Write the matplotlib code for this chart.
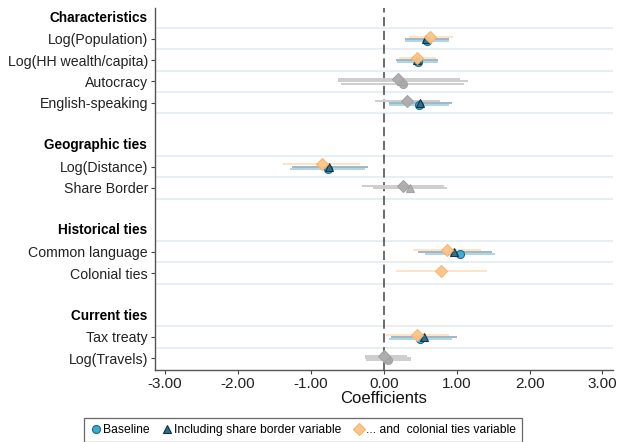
import numpy as np
import matplotlib
matplotlib.use("Agg")
import matplotlib.pyplot as plt
from matplotlib.lines import Line2D

plt.rcParams['font.family'] = ['Liberation Sans', 'DejaVu Sans']

# row layout: group headers and variables
groups = ['Characteristics', 'Geographic ties', 'Historical ties', 'Current ties']
group_vars = [
    ['Log(Population)', 'Log(HH wealth/capita)', 'Autocracy', 'English-speaking'],
    ['Log(Distance)', 'Share Border'],
    ['Common language', 'Colonial ties'],
    ['Tax treaty', 'Log(Travels)'],
]

series_names = ['Baseline', 'Including share border variable',
                '... and  colonial ties variable']

# estimates per variable (missing = not in model)
base_est = {'Log(Population)': 0.59, 'Log(HH wealth/capita)': 0.47, 'Autocracy': 0.26,
            'English-speaking': 0.49, 'Log(Distance)': -0.77, 'Common language': 1.05,
            'Tax treaty': 0.50, 'Log(Travels)': 0.06}
base_lo = {'Log(Population)': 0.29, 'Log(HH wealth/capita)': 0.18, 'Autocracy': -0.59,
           'English-speaking': 0.07, 'Log(Distance)': -1.29, 'Common language': 0.57,
           'Tax treaty': 0.07, 'Log(Travels)': -0.25}
base_hi = {'Log(Population)': 0.89, 'Log(HH wealth/capita)': 0.75, 'Autocracy': 1.10,
           'English-speaking': 0.89, 'Log(Distance)': -0.26, 'Common language': 1.53,
           'Tax treaty': 0.94, 'Log(Travels)': 0.37}

share_est = {'Log(Population)': 0.58, 'Log(HH wealth/capita)': 0.46, 'Autocracy': 0.24,
             'English-speaking': 0.50, 'Log(Distance)': -0.75, 'Share Border': 0.36,
             'Common language': 0.97, 'Tax treaty': 0.55, 'Log(Travels)': 0.04}
share_lo = {'Log(Population)': 0.29, 'Log(HH wealth/capita)': 0.17, 'Autocracy': -0.63,
            'English-speaking': 0.07, 'Log(Distance)': -1.26, 'Share Border': -0.15,
            'Common language': 0.47, 'Tax treaty': 0.10, 'Log(Travels)': -0.26}
share_hi = {'Log(Population)': 0.89, 'Log(HH wealth/capita)': 0.75, 'Autocracy': 1.16,
            'English-speaking': 0.94, 'Log(Distance)': -0.22, 'Share Border': 0.87,
            'Common language': 1.49, 'Tax treaty': 1.01, 'Log(Travels)': 0.38}

col_est = {'Log(Population)': 0.64, 'Log(HH wealth/capita)': 0.46, 'Autocracy': 0.20,
           'English-speaking': 0.32, 'Log(Distance)': -0.85, 'Share Border': 0.26,
           'Common language': 0.87, 'Colonial ties': 0.79, 'Tax treaty': 0.46,
           'Log(Travels)': 0.00}
col_lo = {'Log(Population)': 0.34, 'Log(HH wealth/capita)': 0.21, 'Autocracy': -0.63,
          'English-speaking': -0.12, 'Log(Distance)': -1.38, 'Share Border': -0.30,
          'Common language': 0.40, 'Colonial ties': 0.17, 'Tax treaty': 0.03,
          'Log(Travels)': -0.26}
col_hi = {'Log(Population)': 0.95, 'Log(HH wealth/capita)': 0.72, 'Autocracy': 1.04,
          'English-speaking': 0.77, 'Log(Distance)': -0.33, 'Share Border': 0.83,
          'Common language': 1.33, 'Colonial ties': 1.41, 'Tax treaty': 0.90,
          'Log(Travels)': 0.32}

x_ticks = [-3, -2, -1, 0, 1, 2, 3]

# styles: marker, fill, edge, ci colour, offset
styles = [
    dict(marker='o', ms=5.8, fc='#3aa9d3', ec='#1c6a8a', ci='#a9d6e9', off=0.10),
    dict(marker='^', ms=6.2, fc='#2b6e8a', ec='#0d2f3f', ci='#a3b5bf', off=0.0),
    dict(marker='D', ms=6.4, fc='#fdc58a', ec='#f6b46e', ci='#fde3c7', off=-0.10),
]
gray_fc, gray_ec, gray_ci = '#adadad', '#a2a2a2', '#cdcdcd'
data = [(base_est, base_lo, base_hi), (share_est, share_lo, share_hi),
        (col_est, col_lo, col_hi)]

fig = plt.figure(figsize=(6.17, 4.42), dpi=100)
ax = fig.add_axes([0.251, 0.163, 0.742, 0.819])

# build row positions
pos = 0
var_pos = {}
head_pos = []
for g, vs in zip(groups, group_vars):
    head_pos.append(pos)
    pos += 1
    for v in vs:
        var_pos[v] = pos
        pos += 1
    pos += 1

# light row separators
for v, p in var_pos.items():
    for yy in (p - 0.5, p + 0.5):
        if yy < 16.4:
            ax.axhline(yy, color='#e7eff3', lw=1.4, zorder=0)

ax.axvline(0, color='#444444', lw=1.1, ls=(0, (6, 3)), zorder=1)

for (est, lo, hi), st in zip(data, styles):
    for v, p in var_pos.items():
        if v not in est:
            continue
        y = p + st['off']
        insig = lo[v] < 0 < hi[v]
        ci = gray_ci if insig else st['ci']
        fc = gray_fc if insig else st['fc']
        ec = gray_ec if insig else st['ec']
        ax.plot([lo[v], hi[v]], [y, y], color=ci, lw=1.4, solid_capstyle='butt', zorder=2)
        ax.plot(est[v], y, marker=st['marker'], ms=st['ms'], mfc=fc, mec=ec,
                mew=0.8, ls='none', zorder=3, alpha=0.95)

ax.set_xlim(-3.14, 3.14)
ax.set_ylim(16.55, -0.45)
ax.set_xticks(x_ticks)
ax.set_xticklabels(['%.2f' % t for t in x_ticks], fontsize=11, color='#222222')
ax.set_yticks(list(var_pos.values()))
ax.set_yticklabels(list(var_pos.keys()), fontsize=10.2, color='#222222')
ax.tick_params(axis='both', length=3, width=0.8, color='#444444', pad=2)
for p, g in zip(head_pos, groups):
    ax.text(-0.017, p, g, transform=ax.get_yaxis_transform(), ha='right',
            va='center', fontsize=9.8, fontweight='bold', color='black')

ax.set_xlabel('Coefficients', fontsize=12, labelpad=0, color='#111111')
for s in ['top', 'right']:
    ax.spines[s].set_visible(False)
for s in ['left', 'bottom']:
    ax.spines[s].set_color('#555555')
    ax.spines[s].set_linewidth(1.0)

handles = [Line2D([], [], marker=st['marker'], ms=st['ms'], mfc=st['fc'],
                  mec=st['ec'], mew=0.8, ls='none') for st in styles]
leg = fig.legend(handles, series_names, loc='upper center', ncol=3,
                 bbox_to_anchor=(0.491, 1 - 418 / 442), fontsize=8.7,
                 frameon=True, fancybox=False, handletextpad=0.1,
                 columnspacing=0.9, handlelength=1.0, borderpad=0.5,
                 borderaxespad=0)
leg.get_frame().set_edgecolor('#444444')
leg.get_frame().set_linewidth(0.9)

fig.savefig('out.png', dpi=100)
